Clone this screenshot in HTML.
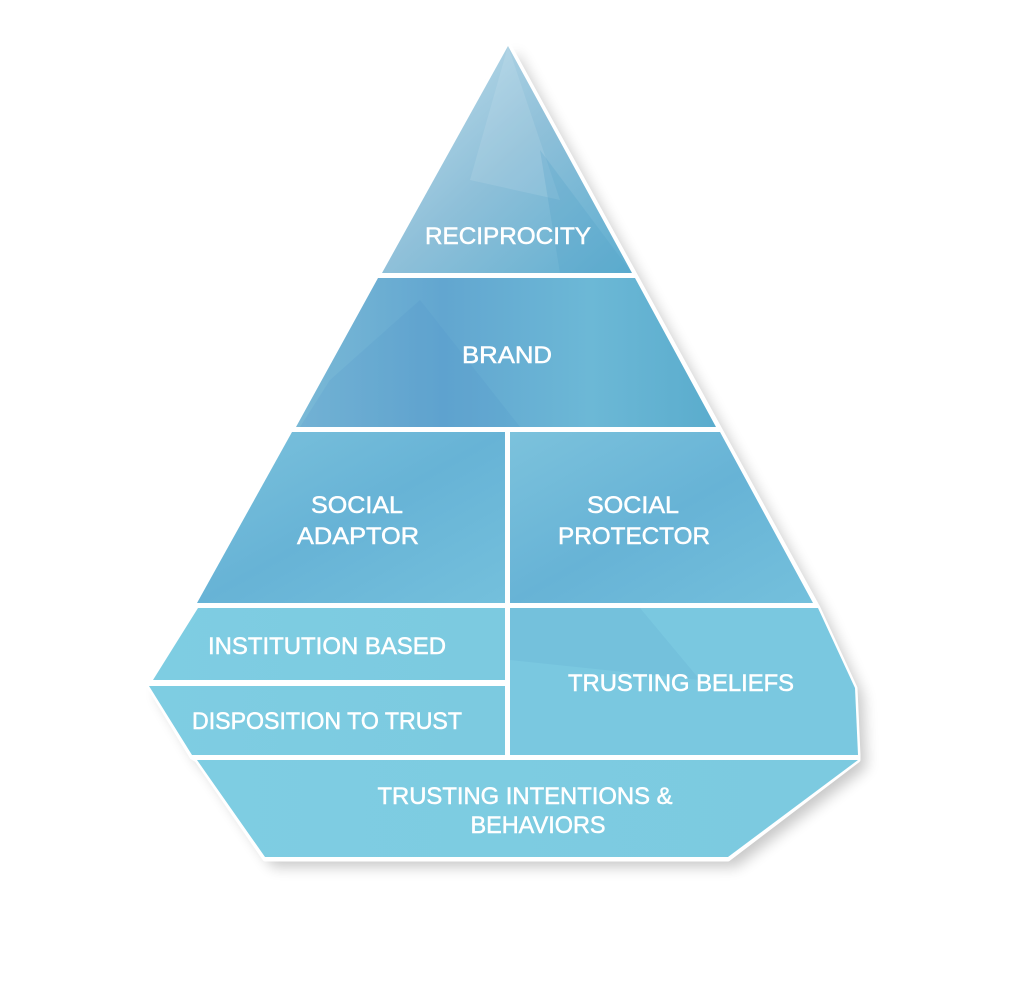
<!DOCTYPE html>
<html><head><meta charset="utf-8"><style>
html,body{margin:0;padding:0;background:#fff;}
svg{display:block;}
text{font-family:"Liberation Sans",sans-serif;fill:#fff;font-size:24px;stroke:#fff;stroke-width:0.5px;}
</style></head><body>
<svg width="1024" height="993" viewBox="0 0 1024 993" xmlns="http://www.w3.org/2000/svg">
<defs>
<filter id="sh" x="-10%" y="-10%" width="130%" height="130%">
<feGaussianBlur in="SourceAlpha" stdDeviation="7"/>
<feOffset dx="8" dy="8"/>
<feComponentTransfer><feFuncA type="linear" slope="0.22"/></feComponentTransfer>
</filter>
<linearGradient id="gTop" x1="0" y1="0" x2="1" y2="1">
<stop offset="0" stop-color="#c4e0ec"/><stop offset="0.5" stop-color="#8fc0d9"/><stop offset="1" stop-color="#5eaed0"/>
</linearGradient>
<linearGradient id="gBrand" x1="0" y1="0" x2="1" y2="0">
<stop offset="0" stop-color="#7ab9d6"/><stop offset="0.35" stop-color="#62a6d0"/><stop offset="0.7" stop-color="#6cb8d6"/><stop offset="1" stop-color="#5aaccd"/>
</linearGradient>
<linearGradient id="gSoc" x1="0" y1="0" x2="1" y2="1">
<stop offset="0" stop-color="#7cc2dc"/><stop offset="0.5" stop-color="#67b3d6"/><stop offset="1" stop-color="#74c0dc"/>
</linearGradient>
<linearGradient id="gLow" x1="0" y1="0" x2="1" y2="0">
<stop offset="0" stop-color="#7ecde2"/><stop offset="1" stop-color="#7ccae0"/>
</linearGradient>
</defs>
<polygon filter="url(#sh)" fill="#000" points="508,44 818,608 855,688 858,755 858,760 728,859 265,859 197,760 192,757 149,686 153,680 198,608"/>
<polygon fill="#fff" stroke="#fff" stroke-width="5" stroke-linejoin="round" points="508,44 818,608 855,688 858,755 858,760 728,859 265,859 197,760 192,757 149,686 153,680 198,608"/>
<polygon points="508,46 632,273 382,273" fill="url(#gTop)"/>
<polygon points="508,46 560,200 470,180" fill="#ffffff" opacity="0.1"/>
<polygon points="540,150 632,273 560,273" fill="#4f9fc7" opacity="0.25"/>
<polygon points="378,278 635,278 716,427 296,427" fill="url(#gBrand)"/>
<polygon points="330,380 420,300 520,427 300,427" fill="#4a8fc8" opacity="0.15"/>
<polygon points="292,432 505,432 505,603 197,603" fill="url(#gSoc)"/>
<polygon points="510,432 720,432 813,603 510,603" fill="url(#gSoc)"/>
<polygon points="198,608 505,608 505,680 153,680" fill="url(#gLow)"/>
<polygon points="149,686 505,686 505,755 192,755" fill="url(#gLow)"/>
<polygon points="510,608 818,608 855,688 858,755 510,755" fill="#7ac8e0"/>
<polygon points="510,608 640,608 700,680 510,660" fill="#6bb6d8" opacity="0.4"/>
<polygon points="197,760 858,760 728,857 265,857" fill="url(#gLow)"/>
<g>
<text x="508" y="244" text-anchor="middle" textLength="166" lengthAdjust="spacingAndGlyphs">RECIPROCITY</text>
<text x="507" y="363" text-anchor="middle" textLength="90" lengthAdjust="spacingAndGlyphs">BRAND</text>
<text x="357" y="513" text-anchor="middle" textLength="92" lengthAdjust="spacingAndGlyphs">SOCIAL</text>
<text x="358" y="544" text-anchor="middle" textLength="122" lengthAdjust="spacingAndGlyphs">ADAPTOR</text>
<text x="633" y="513" text-anchor="middle" textLength="92" lengthAdjust="spacingAndGlyphs">SOCIAL</text>
<text x="634" y="544" text-anchor="middle" textLength="152" lengthAdjust="spacingAndGlyphs">PROTECTOR</text>
<text x="327" y="654" text-anchor="middle" textLength="238" lengthAdjust="spacingAndGlyphs">INSTITUTION BASED</text>
<text x="327" y="729" text-anchor="middle" textLength="270" lengthAdjust="spacingAndGlyphs">DISPOSITION TO TRUST</text>
<text x="681" y="691" text-anchor="middle" textLength="226" lengthAdjust="spacingAndGlyphs">TRUSTING BELIEFS</text>
<text x="525" y="804" text-anchor="middle" textLength="295" lengthAdjust="spacingAndGlyphs">TRUSTING INTENTIONS &amp;</text>
<text x="538" y="833" text-anchor="middle" textLength="135" lengthAdjust="spacingAndGlyphs">BEHAVIORS</text>
</g>
</svg>
</body></html>
